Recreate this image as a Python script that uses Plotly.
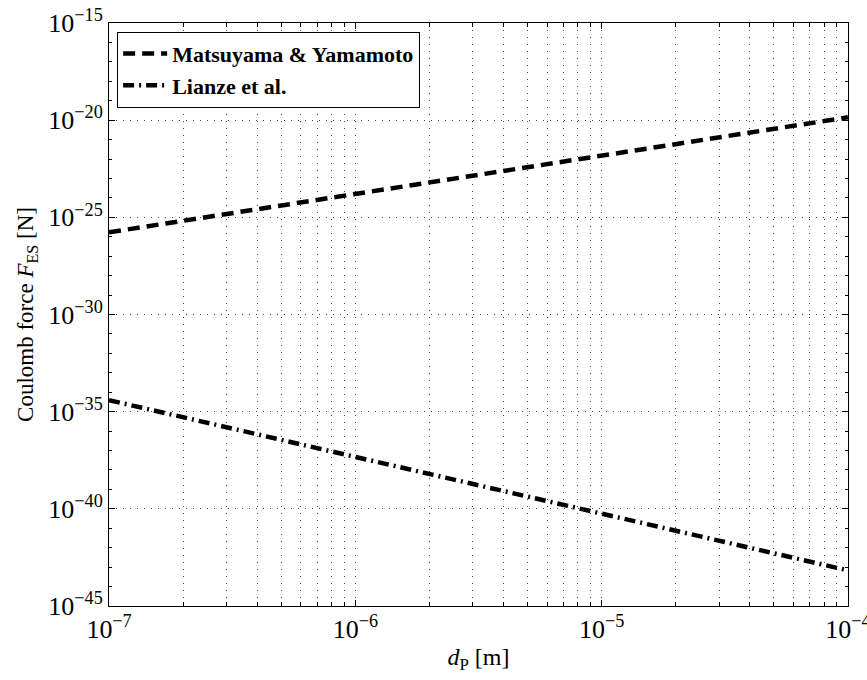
import plotly.graph_objects as go

# Particle diameter [m]
d_p = [1e-7, 1e-6, 1e-5, 1e-4]

# Coulomb force [N] for the two models
F_matsuyama = [1.7e-26, 1.6e-24, 1.5e-22, 1.4e-20]
F_lianze = [3.9e-35, 4.7e-38, 5.7e-41, 6.8e-44]

series_names = ["Matsuyama & Yamamoto", "Lianze et al."]

x_major = [1e-7, 1e-6, 1e-5, 1e-4]
x_major_text = ["10<sup>−7</sup>", "10<sup>−6</sup>", "10<sup>−5</sup>", "10<sup>−4</sup>"]
x_minor = [m * 10.0 ** e for e in (-7, -6, -5) for m in range(2, 10)]

y_major = [1e-45, 1e-40, 1e-35, 1e-30, 1e-25, 1e-20, 1e-15]
y_major_text = ["10<sup>−45</sup>", "10<sup>−40</sup>", "10<sup>−35</sup>", "10<sup>−30</sup>",
                "10<sup>−25</sup>", "10<sup>−20</sup>", "10<sup>−15</sup>"]
y_minor = [10.0 ** e for e in range(-45, -14)]

FONT = "Liberation Serif, Times New Roman, serif"

fig = go.Figure()
fig.add_trace(go.Scatter(
    x=d_p, y=F_matsuyama, mode="lines", name=series_names[0],
    line=dict(color="black", width=4.5, dash="12px,7px"),
))
fig.add_trace(go.Scatter(
    x=d_p, y=F_lianze, mode="lines", name=series_names[1],
    line=dict(color="black", width=4.5, dash="11px,5px,2px,5px"),
))

grid = dict(gridcolor="#444", gridwidth=1, griddash="1px,6px")

fig.update_xaxes(
    type="log", range=[-7.0002, -3.9998],
    tickmode="array", tickvals=x_major, ticktext=x_major_text,
    ticklabeloverflow="allow",
    ticks="inside", ticklen=6, tickcolor="black",
    showline=True, linecolor="black", linewidth=1, mirror="ticks",
    showgrid=True, **grid,
    minor=dict(tickmode="array", tickvals=x_minor, ticks="inside", ticklen=4,
               tickcolor="black", showgrid=True, **grid),
    tickfont=dict(family=FONT, size=26, color="black"),
    title=dict(text="<i>d</i><sub>P</sub> [m]", font=dict(family=FONT, size=24, color="black"),
               standoff=4),
    zeroline=False,
)
fig.update_yaxes(
    type="log", range=[-45.0002, -14.9998],
    tickmode="array", tickvals=y_major, ticktext=y_major_text,
    ticklabeloverflow="allow",
    ticks="inside", ticklen=6, tickcolor="black",
    showline=True, linecolor="black", linewidth=1, mirror="ticks",
    showgrid=True, **grid,
    minor=dict(tickmode="array", tickvals=y_minor, ticks="inside", ticklen=3,
               tickcolor="black", showgrid=False),
    tickfont=dict(family=FONT, size=26, color="black"),
    title=dict(text="Coulomb force <i>F</i><sub>ES</sub> [N]",
               font=dict(family=FONT, size=23, color="black"), standoff=8),
    zeroline=False,
)

fig.update_layout(
    width=867, height=680,
    margin=dict(l=109, r=19, t=23, b=74, autoexpand=False),
    paper_bgcolor="white", plot_bgcolor="white",
    font=dict(family=FONT, color="black"),
    showlegend=True,
    legend=dict(
        x=0.011, y=0.985, xanchor="left", yanchor="top",
        bgcolor="white", bordercolor="black", borderwidth=1,
        font=dict(family=FONT, size=22, color="black", weight="bold"),
        tracegroupgap=0, itemwidth=44,
    ),
)

fig.write_html("out.html")
